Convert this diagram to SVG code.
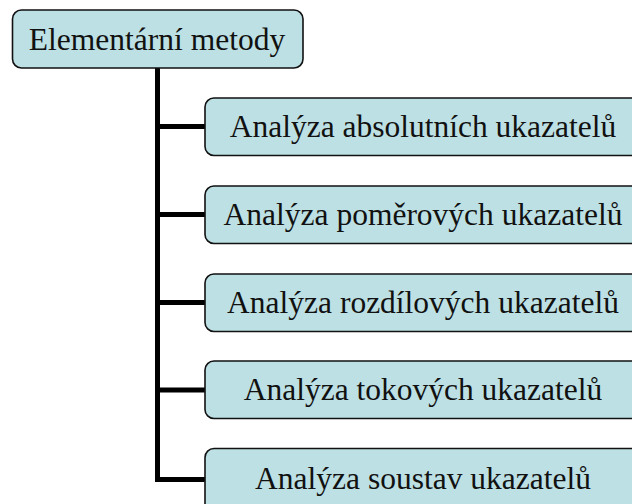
<svg xmlns="http://www.w3.org/2000/svg" width="632" height="504" viewBox="0 0 632 504">
<style>
.box{fill:#bde0e4;stroke:#111;stroke-width:1.6}
.t{font-family:"Liberation Serif","Times New Roman",serif;font-size:31.5px;fill:#111;text-anchor:middle}
.c{fill:none;stroke:#000;stroke-width:5;stroke-linecap:butt;stroke-linejoin:miter}
</style>
<rect width="632" height="504" fill="#fff"/>
<g id="connectors">
<path class="c" d="M157.5 68 V479.5 H205"/>
<path class="c" d="M157.5 126.5 H205"/>
<path class="c" d="M157.5 214.5 H205"/>
<path class="c" d="M157.5 302.5 H205"/>
<path class="c" d="M157.5 390 H205"/>
</g>
<g id="root">
<rect class="box" x="12.5" y="10" width="290.5" height="58" rx="9"/>
<text class="t" x="157" y="50">Elementární metody</text>
</g>
<g id="n1">
<rect class="box" x="205" y="98" width="440" height="57.5" rx="9"/>
<text class="t" x="423" y="136.5">Analýza absolutních ukazatelů</text>
</g>
<g id="n2">
<rect class="box" x="205" y="186" width="440" height="57.5" rx="9"/>
<text class="t" x="423" y="224.5">Analýza poměrových ukazatelů</text>
</g>
<g id="n3">
<rect class="box" x="205" y="274" width="440" height="57.5" rx="9"/>
<text class="t" x="423" y="312.5">Analýza rozdílových ukazatelů</text>
</g>
<g id="n4">
<rect class="box" x="205" y="361" width="440" height="57.5" rx="9"/>
<text class="t" x="423" y="400">Analýza tokových ukazatelů</text>
</g>
<g id="n5">
<rect class="box" x="205" y="448.5" width="440" height="64" rx="9"/>
<text class="t" x="423" y="489">Analýza soustav ukazatelů</text>
</g>
</svg>
